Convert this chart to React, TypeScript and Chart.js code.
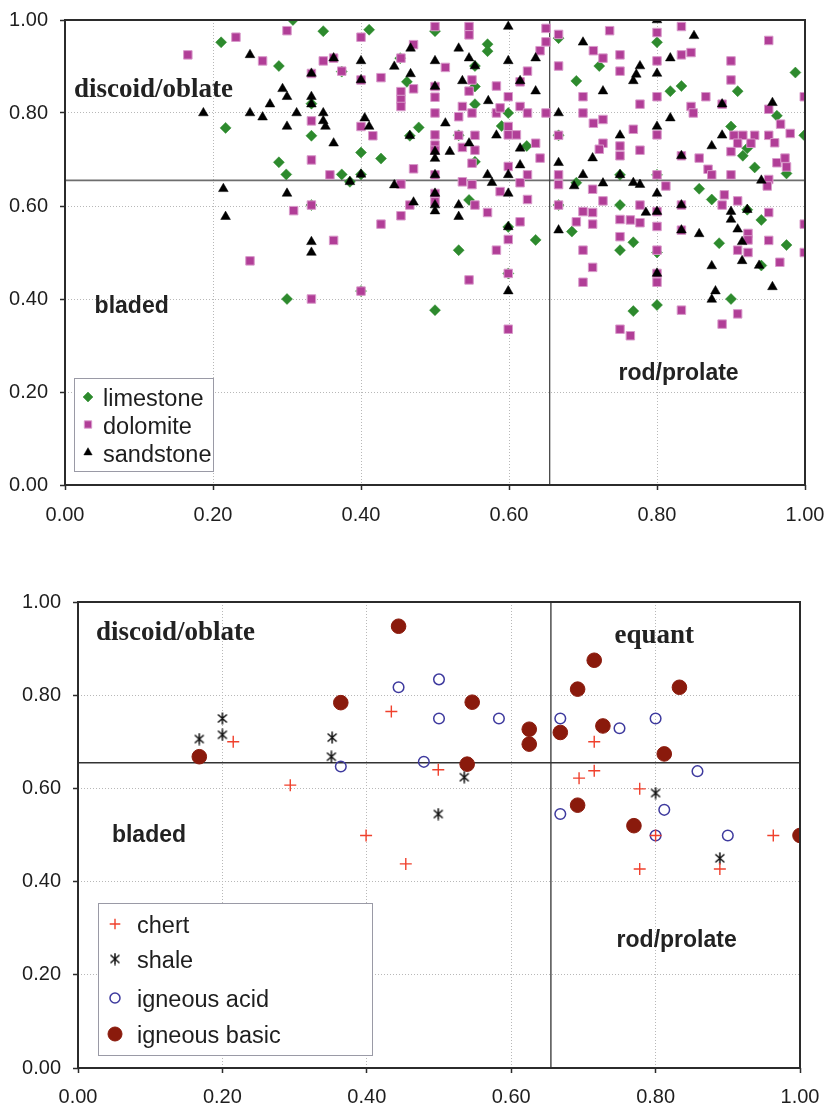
import React, { useEffect, useRef } from "react";
import { Chart, registerables } from "chart.js";

Chart.register(...registerables);

type Pt = [number, number];

// ---------------- data ----------------
const TICK_STEP = 0.2;
const REF_X = 0.655;
const REF_Y = 0.655;

const limestone: Pt[] = [
  [0.308, 1.0], [0.211, 0.952], [0.349, 0.976], [0.411, 0.979], [0.289, 0.901], [0.462, 0.867],
  [0.478, 0.769], [0.466, 0.751], [0.217, 0.768], [0.333, 0.751], [0.4, 0.715], [0.427, 0.702],
  [0.289, 0.694], [0.299, 0.668], [0.374, 0.668], [0.4, 0.668], [0.333, 0.82], [0.453, 0.918],
  [0.385, 0.652], [0.333, 0.602], [0.374, 0.889],
  [0.3, 0.4], [0.4, 0.417], [0.5, 0.376],
  [0.5, 0.976], [0.571, 0.948], [0.571, 0.933], [0.667, 0.961], [0.8, 0.952], [0.722, 0.901],
  [0.691, 0.869], [0.818, 0.847], [0.833, 0.858], [0.909, 0.847], [0.987, 0.887], [0.554, 0.901],
  [0.554, 0.857], [0.554, 0.819], [0.599, 0.8], [0.59, 0.772], [0.532, 0.752], [0.624, 0.729],
  [0.554, 0.695], [0.962, 0.794], [0.9, 0.771], [0.916, 0.708], [0.922, 0.724], [0.932, 0.683],
  [0.999, 0.752], [0.975, 0.67], [0.691, 0.65], [0.546, 0.613], [0.75, 0.602], [0.857, 0.637],
  [0.874, 0.614], [0.941, 0.57], [0.922, 0.592], [0.599, 0.555], [0.636, 0.527], [0.685, 0.545],
  [0.768, 0.522], [0.884, 0.52], [0.975, 0.516], [0.532, 0.505], [0.75, 0.505],
  [0.8, 0.387], [0.768, 0.374], [0.941, 0.472], [0.9, 0.4],
  [0.75, 0.667], [0.8, 0.667], [0.8, 0.5], [0.667, 0.752], [0.667, 0.602], [0.599, 0.455],
];

const dolomite: Pt[] = [
  [0.166, 0.925], [0.231, 0.963], [0.3, 0.977], [0.4, 0.963], [0.267, 0.912], [0.349, 0.912],
  [0.363, 0.918], [0.374, 0.89], [0.333, 0.885], [0.4, 0.871], [0.427, 0.876], [0.454, 0.918],
  [0.471, 0.947], [0.454, 0.846], [0.454, 0.829], [0.454, 0.814], [0.471, 0.852], [0.333, 0.783],
  [0.4, 0.771], [0.416, 0.751], [0.333, 0.699], [0.358, 0.667], [0.471, 0.68], [0.454, 0.647],
  [0.466, 0.602], [0.309, 0.59], [0.333, 0.602], [0.427, 0.561], [0.454, 0.579], [0.363, 0.526],
  [0.5, 0.986], [0.5, 0.857], [0.5, 0.834], [0.5, 0.8], [0.5, 0.753], [0.5, 0.731], [0.5, 0.72],
  [0.5, 0.667], [0.5, 0.627], [0.5, 0.609],
  [0.25, 0.482], [0.333, 0.4], [0.4, 0.417],
  [0.546, 0.986], [0.546, 0.968], [0.65, 0.982], [0.65, 0.953], [0.667, 0.969], [0.736, 0.977],
  [0.8, 0.973], [0.833, 0.986], [0.951, 0.956], [0.514, 0.898], [0.642, 0.934], [0.714, 0.934],
  [0.727, 0.918], [0.75, 0.925], [0.8, 0.912], [0.833, 0.925], [0.846, 0.93], [0.9, 0.912],
  [0.667, 0.901], [0.75, 0.89], [0.625, 0.89], [0.55, 0.871], [0.546, 0.847], [0.583, 0.858],
  [0.615, 0.867], [0.599, 0.835], [0.7, 0.835], [0.8, 0.835], [0.777, 0.819], [0.9, 0.871],
  [0.866, 0.835], [0.888, 0.819], [0.999, 0.835], [0.846, 0.814], [0.849, 0.8], [0.951, 0.808],
  [0.537, 0.814], [0.55, 0.8], [0.583, 0.8], [0.588, 0.811], [0.615, 0.814], [0.625, 0.8],
  [0.65, 0.8], [0.532, 0.792], [0.7, 0.8], [0.714, 0.778], [0.727, 0.786], [0.768, 0.765],
  [0.8, 0.753], [0.599, 0.771], [0.599, 0.753], [0.61, 0.753], [0.554, 0.752], [0.532, 0.752],
  [0.667, 0.752], [0.537, 0.726], [0.554, 0.72], [0.55, 0.692], [0.636, 0.735], [0.642, 0.703],
  [0.599, 0.685], [0.625, 0.667], [0.75, 0.729], [0.75, 0.708], [0.727, 0.735], [0.722, 0.722],
  [0.777, 0.72], [0.833, 0.708], [0.857, 0.703], [0.904, 0.752], [0.916, 0.752], [0.932, 0.752],
  [0.909, 0.735], [0.9, 0.717], [0.927, 0.735], [0.951, 0.752], [0.959, 0.736], [0.967, 0.776],
  [0.98, 0.756], [0.962, 0.693], [0.973, 0.703], [0.975, 0.684], [0.869, 0.679], [0.874, 0.667],
  [0.9, 0.667], [0.951, 0.657], [0.949, 0.643], [0.8, 0.667], [0.667, 0.667], [0.667, 0.646],
  [0.667, 0.602], [0.537, 0.652], [0.55, 0.646], [0.588, 0.631], [0.615, 0.65], [0.625, 0.614],
  [0.554, 0.602], [0.571, 0.586], [0.615, 0.566], [0.599, 0.528], [0.583, 0.505], [0.713, 0.636],
  [0.727, 0.611], [0.7, 0.588], [0.713, 0.586], [0.691, 0.566], [0.713, 0.561], [0.75, 0.571],
  [0.764, 0.57], [0.777, 0.564], [0.75, 0.534], [0.777, 0.602], [0.8, 0.588], [0.8, 0.556],
  [0.812, 0.643], [0.833, 0.602], [0.833, 0.548], [0.891, 0.624], [0.888, 0.602], [0.909, 0.611],
  [0.951, 0.586], [0.923, 0.541], [0.923, 0.527], [0.951, 0.526], [0.999, 0.561], [0.7, 0.505],
  [0.8, 0.505], [0.909, 0.505],
  [0.546, 0.441], [0.599, 0.455], [0.599, 0.335], [0.713, 0.468], [0.7, 0.436], [0.8, 0.455],
  [0.8, 0.436], [0.833, 0.376], [0.75, 0.335], [0.764, 0.321], [0.923, 0.5], [0.999, 0.5],
  [0.966, 0.479], [0.909, 0.368], [0.888, 0.346],
];

const sandstone: Pt[] = [
  [0.25, 0.925], [0.363, 0.918], [0.4, 0.912], [0.445, 0.9], [0.467, 0.939], [0.467, 0.884],
  [0.333, 0.885], [0.4, 0.871], [0.294, 0.852], [0.3, 0.835], [0.333, 0.835], [0.333, 0.819],
  [0.277, 0.819], [0.187, 0.8], [0.25, 0.8], [0.267, 0.791], [0.313, 0.8], [0.3, 0.771],
  [0.349, 0.8], [0.349, 0.783], [0.352, 0.771], [0.405, 0.789], [0.411, 0.771], [0.363, 0.735],
  [0.466, 0.751], [0.385, 0.652], [0.4, 0.668], [0.445, 0.645], [0.214, 0.637], [0.3, 0.627],
  [0.217, 0.577], [0.471, 0.608], [0.333, 0.523], [0.333, 0.5],
  [0.5, 0.912], [0.5, 0.857], [0.5, 0.717], [0.5, 0.702], [0.5, 0.667], [0.5, 0.627],
  [0.5, 0.602], [0.5, 0.589],
  [0.599, 0.986], [0.8, 1.0], [0.85, 0.966], [0.532, 0.939], [0.546, 0.918], [0.554, 0.901],
  [0.599, 0.912], [0.636, 0.918], [0.7, 0.952], [0.818, 0.918], [0.777, 0.901], [0.772, 0.883],
  [0.768, 0.869], [0.8, 0.885], [0.537, 0.869], [0.615, 0.869], [0.636, 0.847], [0.727, 0.847],
  [0.572, 0.826], [0.888, 0.819], [0.956, 0.822], [0.667, 0.8], [0.514, 0.778], [0.8, 0.771],
  [0.818, 0.789], [0.75, 0.752], [0.888, 0.752], [0.874, 0.729], [0.583, 0.752], [0.546, 0.735],
  [0.52, 0.717], [0.615, 0.724], [0.667, 0.693], [0.713, 0.703], [0.833, 0.708], [0.615, 0.688],
  [0.571, 0.667], [0.577, 0.65], [0.599, 0.667], [0.7, 0.667], [0.75, 0.667], [0.688, 0.643],
  [0.727, 0.649], [0.768, 0.65], [0.777, 0.646], [0.941, 0.655], [0.532, 0.602], [0.532, 0.577],
  [0.599, 0.627], [0.8, 0.627], [0.785, 0.586], [0.8, 0.588], [0.833, 0.602], [0.9, 0.588],
  [0.9, 0.571], [0.922, 0.592], [0.909, 0.55], [0.915, 0.523], [0.857, 0.54], [0.833, 0.548],
  [0.667, 0.548], [0.599, 0.555],
  [0.599, 0.417], [0.8, 0.455], [0.915, 0.482], [0.874, 0.471], [0.938, 0.472], [0.956, 0.426],
  [0.879, 0.417], [0.874, 0.399],
];

const chert: Pt[] = [
  [0.215, 0.7], [0.434, 0.765], [0.294, 0.607], [0.399, 0.499], [0.499, 0.64], [0.454, 0.438],
  [0.715, 0.7], [0.715, 0.638], [0.694, 0.622], [0.778, 0.599], [0.8, 0.499], [0.963, 0.499],
  [0.778, 0.427], [0.889, 0.427],
];

const shale: Pt[] = [
  [0.168, 0.706], [0.2, 0.75], [0.2, 0.715], [0.352, 0.709], [0.351, 0.668], [0.499, 0.545],
  [0.535, 0.624], [0.8, 0.59], [0.889, 0.45],
];

const igneousAcid: Pt[] = [
  [0.444, 0.817], [0.5, 0.834], [0.5, 0.75], [0.364, 0.647], [0.479, 0.657], [0.583, 0.75],
  [0.668, 0.75], [0.75, 0.729], [0.8, 0.75], [0.858, 0.637], [0.668, 0.545], [0.812, 0.554],
  [0.8, 0.499], [0.9, 0.499],
];

const igneousBasic: Pt[] = [
  [0.444, 0.948], [0.364, 0.784], [0.168, 0.668], [0.715, 0.875], [0.692, 0.813], [0.833, 0.817],
  [0.546, 0.785], [0.625, 0.727], [0.625, 0.695], [0.668, 0.72], [0.727, 0.734], [0.812, 0.674],
  [0.539, 0.652], [0.692, 0.564], [0.77, 0.52], [1.0, 0.499],
];

// quadrant labels (anchor in data units: left edge, baseline)
const topZoneLabels = [
  { text: "discoid/oblate", x: 0.012, y: 0.834, serif: true },
  { text: "bladed", x: 0.04, y: 0.369, serif: false },
  { text: "rod/prolate", x: 0.748, y: 0.226, serif: false },
];
const bottomZoneLabels = [
  { text: "discoid/oblate", x: 0.025, y: 0.918, serif: true },
  { text: "equant", x: 0.743, y: 0.913, serif: true },
  { text: "bladed", x: 0.047, y: 0.485, serif: false },
  { text: "rod/prolate", x: 0.746, y: 0.26, serif: false },
];

// ---------------- styling ----------------
const SANS = '"Liberation Sans", Arial, Helvetica, sans-serif';
const SERIF = '"Liberation Serif", "Times New Roman", Times, serif';
const TEXT = "#1e1e1e";

function makeAsterisk(): HTMLCanvasElement {
  const c = document.createElement("canvas");
  c.width = 12;
  c.height = 13;
  const g = c.getContext("2d")!;
  g.strokeStyle = "#111";
  g.lineWidth = 1.5;
  g.beginPath();
  g.moveTo(1.5, 2.5); g.lineTo(10.5, 10.5);
  g.moveTo(10.5, 2.5); g.lineTo(1.5, 10.5);
  g.moveTo(6, 0.5); g.lineTo(6, 12.5);
  g.stroke();
  return c;
}

function drawMarker(ctx: CanvasRenderingContext2D, ds: any, x: number, y: number, r: number) {
  const st = ds.pointStyle;
  ctx.save();
  ctx.fillStyle = ds.backgroundColor;
  ctx.strokeStyle = ds.borderColor;
  ctx.lineWidth = ds.borderWidth;
  if (typeof st !== "string") {
    ctx.drawImage(st, x - st.width / 2, y - st.height / 2);
    ctx.restore();
    return;
  }
  ctx.beginPath();
  if (st === "rectRot") {
    ctx.moveTo(x - r, y); ctx.lineTo(x, y - r); ctx.lineTo(x + r, y); ctx.lineTo(x, y + r);
    ctx.closePath(); ctx.fill(); ctx.stroke();
  } else if (st === "rect") {
    const s = r * Math.SQRT1_2;
    ctx.rect(x - s, y - s, 2 * s, 2 * s); ctx.fill(); ctx.stroke();
  } else if (st === "triangle") {
    let a = 0;
    ctx.moveTo(x + Math.sin(a) * r, y - Math.cos(a) * r);
    a += (2 * Math.PI) / 3;
    ctx.lineTo(x + Math.sin(a) * r, y - Math.cos(a) * r);
    a += (2 * Math.PI) / 3;
    ctx.lineTo(x + Math.sin(a) * r, y - Math.cos(a) * r);
    ctx.closePath(); ctx.fill(); ctx.stroke();
  } else if (st === "cross") {
    ctx.moveTo(x, y - r); ctx.lineTo(x, y + r);
    ctx.moveTo(x - r, y); ctx.lineTo(x + r, y);
    ctx.stroke();
  } else {
    ctx.arc(x, y, r, 0, Math.PI * 2); ctx.fill(); ctx.stroke();
  }
  ctx.restore();
}

type Decor = {
  hLine: { color: string; width: number };
  vLine: { color: string; width: number };
  labels: { text: string; x: number; y: number; serif: boolean }[];
  legend: {
    box: [number, number, number, number];
    markerX: number;
    textX: number;
    baselines: number[];
    markerLift: number;
    legendRadius: number[];
  };
};

function decorPlugin(cfg: Decor) {
  return {
    id: "decor",
    beforeDatasetsDraw(chart: any) {
      const { ctx, chartArea: a, scales } = chart;
      const px = scales.x.getPixelForValue(REF_X);
      const py = scales.y.getPixelForValue(REF_Y);
      ctx.save();
      ctx.strokeStyle = cfg.hLine.color;
      ctx.lineWidth = cfg.hLine.width;
      ctx.beginPath();
      ctx.moveTo(a.left, py); ctx.lineTo(a.right, py);
      ctx.stroke();
      ctx.strokeStyle = cfg.vLine.color;
      ctx.lineWidth = cfg.vLine.width;
      ctx.beginPath();
      ctx.moveTo(px, a.top); ctx.lineTo(px, a.bottom);
      ctx.stroke();
      ctx.restore();
    },
    afterDatasetsDraw(chart: any) {
      const { ctx, chartArea: a, scales } = chart;
      ctx.save();
      // frame
      ctx.strokeStyle = "#2b2b2b";
      ctx.lineWidth = 2;
      ctx.strokeRect(a.left, a.top, a.right - a.left, a.bottom - a.top);
      // zone labels
      ctx.fillStyle = "#222";
      ctx.textBaseline = "alphabetic";
      ctx.textAlign = "left";
      for (const l of cfg.labels) {
        ctx.font = l.serif ? `bold 27px ${SERIF}` : `bold 23px ${SANS}`;
        ctx.fillText(l.text, scales.x.getPixelForValue(l.x), scales.y.getPixelForValue(l.y));
      }
      // legend
      const lg = cfg.legend;
      const [x1, y1, x2, y2] = lg.box;
      ctx.fillStyle = "#fff";
      ctx.fillRect(x1, y1, x2 - x1, y2 - y1);
      ctx.strokeStyle = "#9a9aa6";
      ctx.lineWidth = 1;
      ctx.strokeRect(x1 + 0.5, y1 + 0.5, x2 - x1, y2 - y1);
      ctx.font = `23.5px ${SANS}`;
      chart.data.datasets.forEach((ds: any, i: number) => {
        const b = lg.baselines[i];
        drawMarker(ctx, ds, lg.markerX, b - lg.markerLift, lg.legendRadius[i]);
        ctx.fillStyle = TEXT;
        ctx.fillText(ds.label, lg.textX, b);
      });
      ctx.restore();
    },
  };
}

function axis(isX: boolean, fit: number, pad: number) {
  return {
    type: "linear" as const,
    min: 0,
    max: 1,
    afterFit: (s: any) => {
      if (isX) s.height = fit;
      else s.width = fit;
      s.paddingLeft = 0;
      s.paddingRight = 0;
      s.paddingTop = 0;
      s.paddingBottom = 0;
    },
    ticks: {
      stepSize: TICK_STEP,
      padding: pad,
      color: TEXT,
      font: { family: SANS, size: 20 },
      callback: (v: any) => Number(v).toFixed(2),
    },
    grid: {
      color: "#b8b8b8",
      lineWidth: 1,
      drawTicks: true,
      tickLength: 5,
      tickColor: "#2b2b2b",
      tickWidth: 1.5,
      tickBorderDash: [],
    },
    border: { display: false, dash: [1, 2] },
  };
}

function ds(label: string, pts: Pt[], style: any, radius: number, bg: string, border: string, bw: number, order: number) {
  return {
    label,
    data: pts.map(([x, y]) => ({ x, y })),
    pointStyle: style,
    pointRadius: radius,
    pointHoverRadius: radius,
    backgroundColor: bg,
    pointBackgroundColor: bg,
    borderColor: border,
    pointBorderColor: border,
    borderWidth: bw,
    pointBorderWidth: bw,
    showLine: false,
    order,
  };
}

function useScatter(ref: React.RefObject<HTMLCanvasElement>, build: () => any) {
  useEffect(() => {
    if (!ref.current) return;
    const chart = new Chart(ref.current, build());
    return () => chart.destroy();
  }, []);
}

export default function App() {
  const topRef = useRef<HTMLCanvasElement>(null);
  const botRef = useRef<HTMLCanvasElement>(null);

  useScatter(topRef, () => ({
    type: "scatter",
    data: {
      datasets: [
        ds("limestone", limestone, "rectRot", 5.5, "#2D8A2D", "#2D8A2D", 0.5, 3),
        ds("dolomite", dolomite, "rect", 6, "#B13E97", "#D99BCB", 1, 2),
        ds("sandstone", sandstone, "triangle", 5.6, "#000", "#000", 0.5, 1),
      ],
    },
    options: {
      animation: false,
      responsive: false,
      events: [],
      layout: { padding: { left: 0, right: 24, top: 20, bottom: 0 } },
      scales: { x: axis(true, 60, 13), y: axis(false, 65, 12) },
      plugins: { legend: { display: false }, tooltip: { enabled: false } },
    },
    plugins: [
      decorPlugin({
        hLine: { color: "#6e6e6e", width: 1.8 },
        vLine: { color: "#3a3a3a", width: 1.2 },
        labels: topZoneLabels,
        legend: {
          box: [74, 378, 213, 471],
          markerX: 88,
          textX: 103,
          baselines: [406, 433.5, 461.5],
          markerLift: 9,
          legendRadius: [5, 5.2, 4.8],
        },
      }),
    ],
  }));

  useScatter(botRef, () => ({
    type: "scatter",
    data: {
      datasets: [
        ds("chert", chert, "cross", 6, "#F0402C", "#F0402C", 1.4, 1),
        ds("shale", shale, makeAsterisk(), 6, "#111", "#111", 1.4, 2),
        ds("igneous acid", igneousAcid, "circle", 5.3, "rgba(255,255,255,0)", "#3E3A9E", 1.5, 3),
        ds("igneous basic", igneousBasic, "circle", 7.3, "#8A1A0C", "#8A1A0C", 1, 4),
      ],
    },
    options: {
      animation: false,
      responsive: false,
      events: [],
      layout: { padding: { left: 0, right: 29, top: 57, bottom: 0 } },
      scales: { x: axis(true, 41, 12), y: axis(false, 78, 12) },
      plugins: { legend: { display: false }, tooltip: { enabled: false } },
    },
    plugins: [
      decorPlugin({
        hLine: { color: "#333", width: 1.3 },
        vLine: { color: "#333", width: 1.3 },
        labels: bottomZoneLabels,
        legend: {
          box: [98, 358, 372, 510],
          markerX: 115,
          textX: 137,
          baselines: [388, 423, 462, 498],
          markerLift: 9,
          legendRadius: [5.3, 5, 5, 7],
        },
      }),
    ],
  }));

  return (
    <div style={{ position: "absolute", left: 0, top: 0, width: 829, height: 1109, background: "#fff" }}>
      <canvas ref={topRef} width={829} height={545} style={{ position: "absolute", left: 0, top: 0, width: 829, height: 545 }} />
      <canvas ref={botRef} width={829} height={564} style={{ position: "absolute", left: 0, top: 545, width: 829, height: 564 }} />
    </div>
  );
}
